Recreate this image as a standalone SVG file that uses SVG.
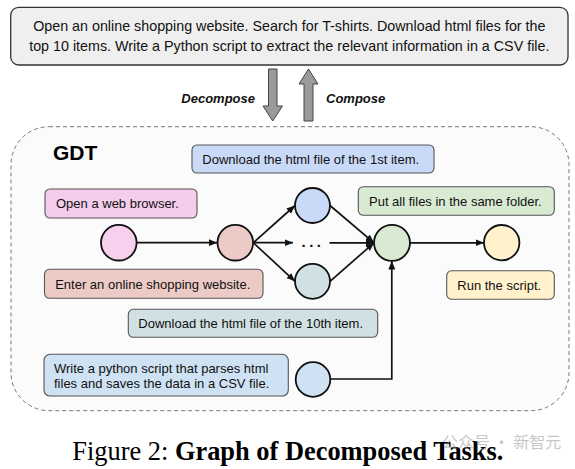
<svg xmlns="http://www.w3.org/2000/svg" width="575" height="469" viewBox="0 0 575 469">
<defs>
<style>
.t{font-family:"Liberation Sans",Arial,sans-serif;font-size:13px;fill:#111}
.box{stroke:#555;stroke-width:1.1}
.c{stroke:#111;stroke-width:1.8}
.e{fill:none;stroke:#111;stroke-width:1.7}
.big{fill:#9a9a9a;stroke:#444;stroke-width:1}
.lab{font-family:"Liberation Sans",Arial,sans-serif;font-size:13px;font-weight:bold;font-style:italic;fill:#111}
</style>
<marker id="ah" markerUnits="userSpaceOnUse" markerWidth="9" markerHeight="8" refX="8.5" refY="3.5" orient="auto">
<path d="M0,0 L8.5,3.5 L0,7 Z" fill="#111"/>
</marker>
</defs>
<rect width="575" height="469" fill="#ffffff"/>

<g id="task">
<rect x="10.7" y="7.3" width="557.3" height="57.7" rx="8" fill="#efefef" stroke="#333" stroke-width="1.3"/>
<text class="t" x="289.3" y="30.8" text-anchor="middle" style="font-size:14.3px">Open an online shopping website. Search for T-shirts. Download html files for the</text>
<text class="t" x="289.3" y="50.6" text-anchor="middle" style="font-size:14.3px">top 10 items. Write a Python script to extract the relevant information in a CSV file.</text>
</g>

<g id="decompose">
<path class="big" d="M268.5,69 L277,69 L277,106 L282.5,106 L272.7,121 L263,106 L268.5,106 Z"/>
<text class="lab" x="255" y="102.5" text-anchor="end">Decompose</text>
</g>
<g id="compose">
<path class="big" d="M308.5,69 L318,84 L313,84 L313,121 L304,121 L304,84 L299,84 Z"/>
<text class="lab" x="326" y="102.5">Compose</text>
</g>

<g id="gdt">
<rect x="11" y="126.7" width="558" height="284" rx="38" fill="#fbfbfb" stroke="#777" stroke-width="1" stroke-dasharray="4 3"/>
<text x="53" y="160" style="font-family:'Liberation Sans',Arial,sans-serif;font-size:21px;font-weight:bold;fill:#000">GDT</text>
</g>

<g id="connectors">
<line class="e" x1="136.6" y1="242.7" x2="217.3" y2="242.7" marker-end="url(#ah)"/>
<line class="e" x1="253.3" y1="242.7" x2="295" y2="205.5" marker-end="url(#ah)"/>
<line class="e" x1="253.3" y1="242.7" x2="293" y2="242.7" marker-end="url(#ah)"/>
<line class="e" x1="253.3" y1="242.7" x2="295" y2="281.3" marker-end="url(#ah)"/>
<line class="e" x1="330" y1="205.5" x2="374" y2="242.8" marker-end="url(#ah)"/>
<line class="e" x1="329.5" y1="242.8" x2="374" y2="242.8" marker-end="url(#ah)"/>
<line class="e" x1="330" y1="281.3" x2="374" y2="242.8" marker-end="url(#ah)"/>
<line class="e" x1="410" y1="242.8" x2="484" y2="242.8" marker-end="url(#ah)"/>
<polyline class="e" points="330.5,379 391.8,379 391.8,261" marker-end="url(#ah)"/>
</g>

<g id="dots">
<text x="313" y="247" text-anchor="middle" style="font-family:'Liberation Sans',Arial,sans-serif;font-size:15px;font-weight:bold;letter-spacing:3.5px;fill:#111">...</text>
</g>

<g id="open-browser">
<rect class="box" x="45" y="189" width="152" height="29" rx="5" fill="#f5cdec"/>
<text class="t" x="56" y="208.3">Open a web browser.</text>
<circle class="c" cx="118.8" cy="242.7" r="17.8" fill="#f7d0ee"/>
</g>

<g id="enter-website">
<rect class="box" x="44.5" y="269.3" width="218.5" height="29" rx="5" fill="#eccbc6"/>
<text class="t" x="55.2" y="288.5">Enter an online shopping website.</text>
<circle class="c" cx="235.3" cy="242.7" r="17.8" fill="#eccbc6"/>
</g>

<g id="download-1st">
<rect class="box" x="192" y="145" width="242" height="28" rx="5" fill="#c9daf8"/>
<text class="t" x="202.3" y="163.6">Download the html file of the 1st item.</text>
<circle class="c" cx="312.5" cy="205.5" r="17.5" fill="#c9daf8"/>
</g>

<g id="download-10th">
<rect class="box" x="128.3" y="309.3" width="249.4" height="28" rx="5" fill="#d0e0e3"/>
<text class="t" x="138.3" y="327.8">Download the html file of the 10th item.</text>
<circle class="c" cx="312.5" cy="281.3" r="17.5" fill="#d0e0e3"/>
</g>

<g id="same-folder">
<rect class="box" x="358.3" y="186.7" width="196" height="28.6" rx="5" fill="#d9ead3"/>
<text class="t" x="369" y="205.5">Put all files in the same folder.</text>
<circle class="c" cx="392" cy="242.8" r="18" fill="#d9ead3"/>
</g>

<g id="run-script">
<rect class="box" x="446.7" y="270.7" width="107.6" height="28.6" rx="5" fill="#fff2cc"/>
<text class="t" x="457.3" y="289.5">Run the script.</text>
<circle class="c" cx="501.7" cy="242.7" r="17.7" fill="#fff2cc"/>
</g>

<g id="python-script">
<rect class="box" x="44" y="354.3" width="244.3" height="41.7" rx="6" fill="#cfe2f3"/>
<text class="t" x="54" y="372.5">Write a python script that parses html</text>
<text class="t" x="54" y="387.5">files and saves the data in a CSV file.</text>
<circle class="c" cx="313" cy="379.5" r="17.3" fill="#cfe2f3"/>
</g>

<g id="caption">
<text x="72.3" y="460" style="font-family:'Liberation Serif','Times New Roman',serif;font-size:26.4px;fill:#000">Figure 2: <tspan font-weight="bold">Graph of Decomposed Tasks.</tspan></text>
</g>
<g id="watermark" opacity="0.55">
<text x="442" y="448" style="font-family:'Noto Sans CJK SC','Noto Sans',sans-serif;font-size:16px;fill:#9a9a9a">公众号 · 新智元</text>
</g>
</svg>
